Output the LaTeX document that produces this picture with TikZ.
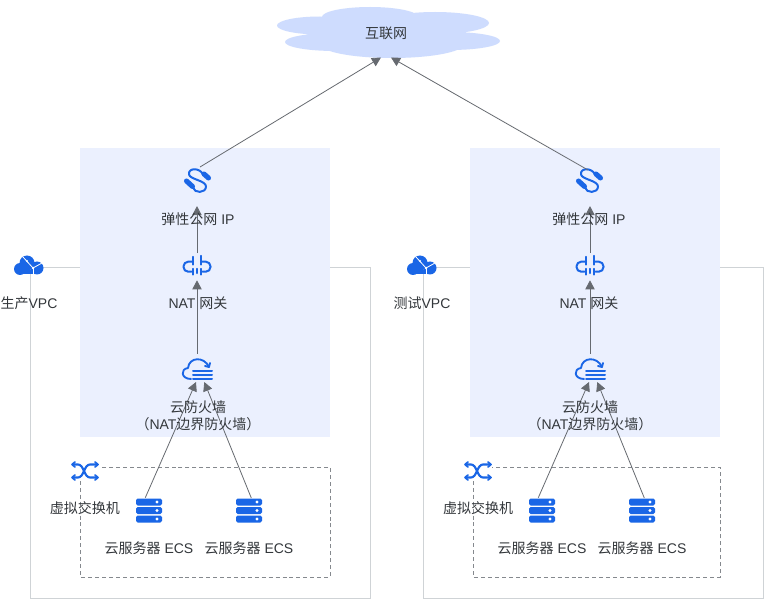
\documentclass[tikz,border=0pt]{standalone}
\usepackage{fontspec}
\setmainfont{Liberation Sans}
\newfontfamily\cjk{Noto Sans CJK SC}
\usetikzlibrary{arrows.meta}
\definecolor{iconblue}{HTML}{1A66E6}
\definecolor{panelblue}{HTML}{EBF0FE}
\definecolor{cloudblue}{HTML}{CEDCFE}
\definecolor{framegray}{HTML}{CFD3D6}
\definecolor{dashgray}{HTML}{85898E}
\definecolor{linkgray}{HTML}{666A70}
\definecolor{inkgray}{HTML}{33373B}
\tikzset{
  x=0.75pt, y=-0.75pt,
  panel/.style={fill=panelblue, draw=none},
  vpcframe/.style={draw=framegray, line width=0.6pt},
  subnet/.style={draw=dashgray, line width=0.45pt, dash pattern=on 3pt off 2.2pt},
  link/.style={draw=linkgray, line width=0.6pt, -{Triangle[length=6.8pt,width=7pt]}},
  label/.style={text=inkgray, font=\fontsize{10.5pt}{12.9pt}\selectfont, align=center, inner sep=0pt},
  iconbox/.style={minimum width=#1, minimum height=#1, inner sep=0pt, draw=none},
  switchbox/.style={minimum width=21pt, minimum height=15pt, inner sep=0pt, draw=none, fill=white},
  iconline/.style={draw=iconblue, line width=1.3pt, line cap=round, line join=round},
  eip/.pic={
    \draw[iconline, line width=1.5pt] (6,-6) .. controls (3,-13) and (-9,-13) .. (-8,-6)
      .. controls (-7,-1) and (9,0) .. (9,6) .. controls (9,13) and (-3,13) .. (-4,7);
    \draw[iconline, line width=3.8pt] (7,-6.5) -- (11.5,-2.5);
    \draw[iconline, line width=3.8pt] (-10.5,0.5) -- (-4.5,6);
  },
  natgw/.pic={
    \draw[iconline, line width=1.5pt, rounded corners=3.5pt] (-4,-5) -- (-13.5,-5) -- (-13.5,5) -- (-5.5,5);
    \draw[iconline, line width=1.5pt, rounded corners=3.5pt] (4,-5) -- (13.5,-5) -- (13.5,5) -- (5.5,5);
    \draw[iconline] (-4,-10) -- (-4,-2);
    \draw[iconline] (-4,2) -- (-4,8);
    \draw[iconline] (4,-11) -- (4,-2);
    \draw[iconline] (4,2) -- (4,8);
    \draw[iconline] (0,2) -- (0,6.5);
  },
  firewall/.pic={
    \draw[iconline, line width=1.4pt] (-6,9) .. controls (-16,9) and (-17,-1) .. (-9,-2)
      .. controls (-8,-13) and (7,-14) .. (12,-3);
    \draw[iconline, line width=1.4pt] (8,-4) -- (12,-3) -- (13,-7);
    \draw[iconline, line width=1.5pt] (-4,0.7) -- (15,0.7);
    \draw[iconline, line width=1.5pt] (-4,4.7) -- (15,4.7);
    \draw[iconline, line width=1.5pt] (-4,8.7) -- (15,8.7);
  },
  vswitch/.pic={
    \draw[iconline, line width=1.6pt] (-12,-6.5) -- (-7,-6.5) .. controls (-1,-6.5) and (-1,6.5) .. (5,6.5) -- (12,6.5);
    \draw[iconline, line width=1.6pt] (-12,6.5) -- (-7,6.5) .. controls (-1,6.5) and (-1,-6.5) .. (5,-6.5) -- (12,-6.5);
    \draw[iconline] (-10,-9) -- (-13,-6.5) -- (-10,-4);
    \draw[iconline] (-10,4) -- (-13,6.5) -- (-10,9);
    \draw[iconline] (10,-9) -- (13,-6.5) -- (10,-4);
    \draw[iconline] (10,4) -- (13,6.5) -- (10,9);
  },
  ecsrack/.pic={
    \foreach \yy in {-8.5,0,8.5}{
      \fill[iconblue, rounded corners=1.2pt] (-13,\yy-3.5) rectangle (13,\yy+3.5);
      \fill[white] (8,\yy) circle (1.6);
    }
  },
  vpccloud/.pic={
    \fill[iconblue] (-9,3) circle (6) (-2,-3) circle (7.5) (8,2) circle (6.5);
    \fill[iconblue] (-9,4) rectangle (8,8.5);
    \draw[white, line width=0.6pt] (-6,-9) -- (4,2) -- (13,-3);
    \draw[white, line width=0.6pt] (4,2) -- (4,9);
    \fill[white] (4,2) circle (1.4) (-2,-5) circle (1.2);
  }
}
\newcommand{\zh}[1]{{\cjk #1}}
\begin{document}
\begin{tikzpicture}
\path[use as bounding box, fill=white] (0,0) rectangle (765,599);

% VPC outlines sit under the service panels
\draw[vpcframe] (30,267) rectangle (370,598);
\draw[vpcframe] (423,267) rectangle (763,598);
\fill[panel] (80,148) rectangle (330,437);
\fill[panel] (470,148) rectangle (720,437);

% switched subnets
\draw[subnet] (80.5,467) rectangle (330,577);
\draw[subnet] (473.5,467) rectangle (720,577);

% internet cloud
\fill[cloudblue]
  (320,25.5) ellipse [x radius=43, y radius=9]
  (335,42) ellipse [x radius=50, y radius=9]
  (370,17) ellipse [x radius=48, y radius=10]
  (392,44) ellipse [x radius=72, y radius=14]
  (375,32) ellipse [x radius=60, y radius=15]
  (435,23) ellipse [x radius=54, y radius=11]
  (450,41) ellipse [x radius=50, y radius=9];
\node[label] (inet) at (386,33) {\zh{互联网}};
\coordinate (inetL) at (381,57.5);
\coordinate (inetR) at (391,57.5);

% production VPC
\node[iconbox=38] (eipA) at (197,180.5) {};
\node[iconbox=20] (natA) at (197,266.7) {};
\node[iconbox=24] (fwA) at (197,370) {};
\node[switchbox] (vswA) at (85,471) {};
\node[iconbox=26] (ecsA1) at (149,510.5) {};
\node[iconbox=26] (ecsA2) at (249,510.5) {};
\node[iconbox=20] (vpcA) at (29,266) {};
\pic at (eipA) {eip};
\pic at (natA) {natgw};
\pic at (fwA) {firewall};
\pic at (vswA) {vswitch};
\pic at (ecsA1) {ecsrack};
\pic at (ecsA2) {ecsrack};
\pic at (vpcA) {vpccloud};

% test VPC
\node[iconbox=38] (eipB) at (589,180.5) {};
\node[iconbox=20] (natB) at (590,266.7) {};
\node[iconbox=24] (fwB) at (590,370) {};
\node[switchbox] (vswB) at (478,471) {};
\node[iconbox=26] (ecsB1) at (542,510.5) {};
\node[iconbox=26] (ecsB2) at (642,510.5) {};
\node[iconbox=20] (vpcB) at (422,266) {};
\pic at (eipB) {eip};
\pic at (natB) {natgw};
\pic at (fwB) {firewall};
\pic at (vswB) {vswitch};
\pic at (ecsB1) {ecsrack};
\pic at (ecsB2) {ecsrack};
\pic at (vpcB) {vpccloud};

% connectors
\coordinate (eipAout) at (200,167);
\coordinate (eipBout) at (588,170);
\coordinate (ecsA1out) at (145.3,497.7);
\coordinate (ecsA2out) at (251.3,498);
\coordinate (ecsB1out) at (538.3,497.7);
\coordinate (ecsB2out) at (644.3,498);
\coordinate (fwAinL) at (196,382);
\coordinate (fwAinR) at (204.3,382);
\coordinate (fwBinL) at (589,382);
\coordinate (fwBinR) at (597.3,382);
\draw[link] (eipAout) -- (inetL);
\draw[link] (eipBout) -- (inetR);
\draw[link] (natA.north) -- (eipA.south);
\draw[link] (fwA.north) -- (natA.south);
\draw[link] (natB.north) -- (natB.north |- eipB.south);
\draw[link] (fwB.north) -- (natB.south);
\draw[link] (ecsA1out) -- (fwAinL);
\draw[link] (ecsA2out) -- (fwAinR);
\draw[link] (ecsB1out) -- (fwBinL);
\draw[link] (ecsB2out) -- (fwBinR);

% labels
\node[label] (lblEipA) at (198,219) {\zh{弹性公网} IP};
\node[label] (lblNatA) at (198,303) {NAT \zh{网关}};
\node[label] (lblFwA) at (198,415.5) {\zh{云防火墙}\\\zh{（}NAT\zh{边界防火墙）}};
\node[label] (lblVswA) at (85,508) {\zh{虚拟交换机}};
\node[label] (lblEcsA1) at (149,548) {\zh{云服务器} ECS};
\node[label] (lblEcsA2) at (249,548) {\zh{云服务器} ECS};
\node[label] (lblVpcA) at (29,303) {\zh{生产}VPC};

\node[label] (lblEipB) at (589,219) {\zh{弹性公网} IP};
\node[label] (lblNatB) at (589,303) {NAT \zh{网关}};
\node[label] (lblFwB) at (590,415.5) {\zh{云防火墙}\\\zh{（}NAT\zh{边界防火墙）}};
\node[label] (lblVswB) at (478,508) {\zh{虚拟交换机}};
\node[label] (lblEcsB1) at (542,548) {\zh{云服务器} ECS};
\node[label] (lblEcsB2) at (642,548) {\zh{云服务器} ECS};
\node[label] (lblVpcB) at (422,303) {\zh{测试}VPC};
\end{tikzpicture}
\end{document}
